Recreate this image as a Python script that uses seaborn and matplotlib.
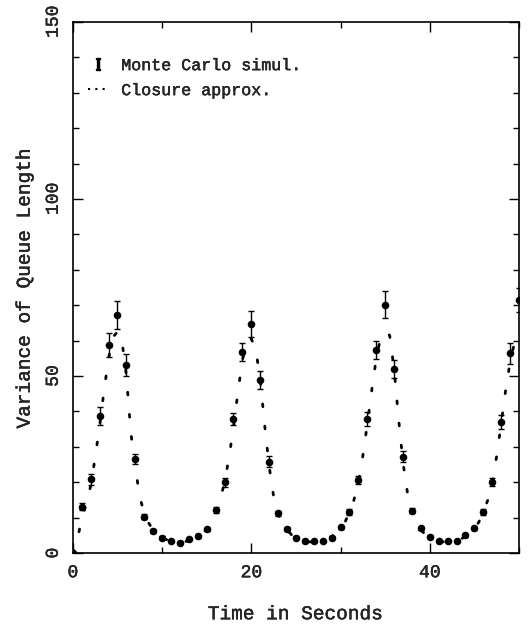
import matplotlib
matplotlib.use("Agg")
import matplotlib.pyplot as plt
import matplotlib.lines as mlines
import matplotlib.patheffects as pe
from matplotlib.ticker import MultipleLocator
import seaborn as sns
import pandas as pd

# Monte Carlo simulation (points with error bars), one per second
mc_time = list(range(0, 51))
mc_var = [0.0, 13.1, 20.8, 38.7, 58.8, 67.2, 53.1, 26.6, 10.3, 6.3,
          4.4, 3.5, 3.0, 4.0, 4.8, 6.7, 12.1, 20.0, 37.9, 56.8,
          64.7, 48.9, 25.8, 11.2, 6.8, 4.4, 3.4, 3.5, 3.5, 4.4,
          7.3, 11.7, 20.7, 37.8, 57.3, 70.2, 51.9, 27.2, 12.0, 7.0,
          4.6, 3.5, 3.4, 3.4, 5.0, 7.0, 11.7, 20.1, 37.1, 56.4,
          71.5]
mc_err = [0.0, 1.0, 1.5, 2.5, 3.3, 4.0, 3.0, 1.5, 0.8, 0.5,
          0.4, 0.3, 0.3, 0.3, 0.4, 0.5, 0.8, 1.2, 1.8, 2.5,
          3.7, 2.5, 1.5, 0.8, 0.5, 0.4, 0.3, 0.3, 0.3, 0.4,
          0.5, 0.8, 1.2, 2.0, 2.5, 3.7, 2.5, 1.5, 0.8, 0.5,
          0.4, 0.3, 0.3, 0.3, 0.4, 0.5, 0.8, 1.2, 2.0, 3.0,
          3.5]

# closure approximation, read every half second
cl_time = [i * 0.5 for i in range(101)]
cl_var = [0.0, 4.0, 9.5, 14.0, 19.0, 27.0, 36.0, 46.0, 55.0, 61.0,
          62.5, 60.0, 50.0, 34.0, 24.0, 16.0, 11.0, 8.5, 6.5, 5.3,
          4.4, 3.8, 3.4, 3.2, 3.1, 3.2, 3.5, 4.0, 4.7, 5.6,
          6.8, 8.8, 11.5, 15.0, 20.0, 27.0, 35.5, 45.5, 54.5, 59.5,
          60.5, 57.5, 49.0, 36.0, 24.5, 16.0, 11.0, 8.5, 6.5, 5.2,
          4.4, 3.8, 3.4, 3.2, 3.1, 3.2, 3.5, 4.0, 4.7, 5.7,
          6.8, 8.8, 11.5, 15.0, 20.0, 27.5, 36.5, 46.0, 55.0, 61.0,
          62.5, 61.5, 52.0, 38.0, 25.5, 17.0, 11.5, 8.5, 6.5, 5.3,
          4.4, 3.8, 3.4, 3.2, 3.1, 3.2, 3.5, 4.0, 4.7, 5.7,
          6.8, 8.8, 11.5, 15.0, 20.0, 27.5, 36.5, 46.0, 54.0, 59.5,
          62.0]

mc = pd.DataFrame({"time": mc_time, "var": mc_var, "err": mc_err})
cl = pd.DataFrame({"time": cl_time, "var": cl_var})

sns.set_theme(style="ticks")
plt.rcParams["font.family"] = ["Liberation Mono", "DejaVu Serif"]
plt.rcParams["mathtext.fontset"] = "dejavuserif"

fig = plt.figure(figsize=(5.28, 6.25), dpi=100)
ax = fig.add_axes([0.138, 0.115, 0.845, 0.85])

sns.lineplot(data=cl, x="time", y="var", ax=ax, color="black", lw=2,
             dashes=False, linestyle=(0, (1, 7)), dash_capstyle="round")
ax.errorbar(mc["time"], mc["var"], yerr=mc["err"], fmt="none",
            ecolor="black", elinewidth=1, capsize=2.5, capthick=1)
sns.scatterplot(data=mc, x="time", y="var", ax=ax, color="black",
                s=30, edgecolor="black", linewidth=0, zorder=3)

ax.set_xlim(0, 50)
ax.set_ylim(0, 150)
ax.xaxis.set_major_locator(MultipleLocator(20))
ax.xaxis.set_minor_locator(MultipleLocator(10))
ax.yaxis.set_major_locator(MultipleLocator(50))
ax.yaxis.set_minor_locator(MultipleLocator(10))
ax.tick_params(which="both", direction="in", top=True, right=True,
               color="black", width=1)
ax.tick_params(which="major", length=7, labelsize=13, pad=8)
ax.tick_params(which="minor", length=4)
for lab in ax.get_yticklabels():
    lab.set_rotation(90)
    lab.set_va("center")
for sp in ax.spines.values():
    sp.set_color("black")
    sp.set_linewidth(1.2)

ax.set_xlabel("Time in Seconds", fontsize=14, labelpad=18)
ax.set_ylabel("Variance of Queue Length", fontsize=14, labelpad=8)

h_mc = mlines.Line2D([], [], ls="none", marker="$\\mathrm{I}$",
                     ms=9, color="black")
h_cl = mlines.Line2D([], [], color="black", lw=1.5, ls=(0, (1, 2.5)))
leg = ax.legend([h_mc, h_cl], ["Monte Carlo simul.", "Closure approx."],
                loc="upper left", bbox_to_anchor=(0.0, 0.96), frameon=False,
                fontsize=12, handlelength=1.2, handletextpad=0.8,
                labelspacing=0.6)

# the scanned lettering is a bit heavier than plain Courier
thick = [pe.withStroke(linewidth=0.3, foreground="black")]
texts = ax.get_xticklabels() + ax.get_yticklabels() + leg.get_texts()
texts += [ax.xaxis.label, ax.yaxis.label]
for t in texts:
    t.set_path_effects(thick)

fig.savefig("out.png", dpi=100)
